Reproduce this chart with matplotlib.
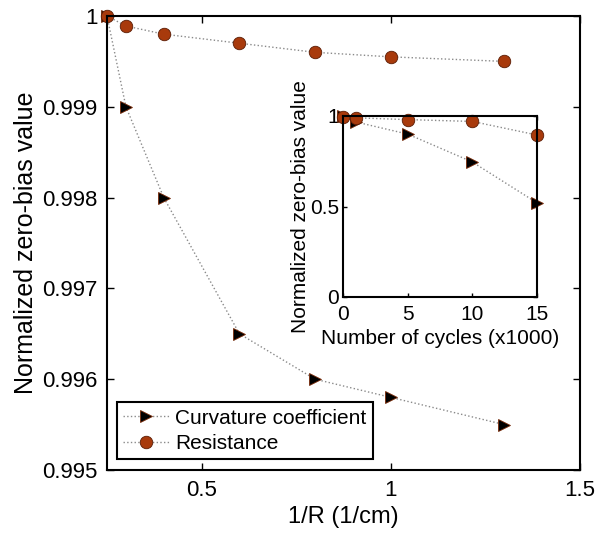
import matplotlib
matplotlib.use("Agg")
import matplotlib.pyplot as plt

plt.rcParams['font.family'] = ['Liberation Sans', 'DejaVu Sans']

# Main data: normalized zero-bias value vs 1/R
inv_r = [0.25, 0.3, 0.4, 0.6, 0.8, 1.0, 1.3]
curvature = [1.0, 0.999, 0.998, 0.9965, 0.996, 0.9958, 0.9955]
resistance = [1.0, 0.99989, 0.9998, 0.9997, 0.9996, 0.99955, 0.9995]

# Inset data: normalized value vs number of cycles (x1000)
cycles = [0, 1, 5, 10, 15]
curv_cycles = [1.0, 0.967, 0.90, 0.746, 0.52]
res_cycles = [0.995, 0.99, 0.98, 0.97, 0.895]

circle_face = "#a83a0c"
circle_edge = "#5a1c04"
line_col = "#8a8a8a"

fig = plt.figure(figsize=(6.02, 5.33), dpi=100)
W, H = 602, 533
ax = fig.add_axes([107 / W, 1 - 470 / H, (580 - 107) / W, (470 - 16) / H])

ax.plot(inv_r, curvature, linestyle=":", color=line_col, linewidth=1,
        marker=">", markersize=9, markerfacecolor="black",
        markeredgecolor="#7a2a08", markeredgewidth=0.6,
        label="Curvature coefficient", clip_on=False)
ax.plot(inv_r, resistance, linestyle=":", color=line_col, linewidth=1,
        marker="o", markersize=9, markerfacecolor=circle_face,
        markeredgecolor=circle_edge, markeredgewidth=0.6,
        label="Resistance", clip_on=False)

ax.set_xlim(0.25, 1.5)
ax.set_ylim(0.995, 1.0)
ax.set_xticks([0.5, 1.0, 1.5])
ax.set_xticklabels(["0.5", "1", "1.5"])
ax.set_yticks([0.995, 0.996, 0.997, 0.998, 0.999, 1.0])
ax.set_yticklabels(["0.995", "0.996", "0.997", "0.998", "0.999", "1"])
ax.tick_params(labelsize=16, direction="in", length=5, width=1, pad=7,
               top=True, right=True)
ax.set_xlabel("1/R (1/cm)", fontsize=17, labelpad=4)
ax.set_ylabel("Normalized zero-bias value", fontsize=18, labelpad=3)
for s in ax.spines.values():
    s.set_linewidth(1.5)

leg = ax.legend(loc="lower left", fontsize=15, fancybox=False, framealpha=1,
                edgecolor="black", handlelength=2.2, borderpad=0.3,
                labelspacing=0.3, handletextpad=0.3, borderaxespad=0,
                bbox_to_anchor=(0.021, 0.024))
leg.get_frame().set_linewidth(1.5)

# Inset
axi = fig.add_axes([343 / W, 1 - 297 / H, (537 - 343) / W, (297 - 116) / H])
axi.plot(cycles, curv_cycles, linestyle=":", color=line_col, linewidth=1,
         marker=">", markersize=9, markerfacecolor="black",
         markeredgecolor="#7a2a08", markeredgewidth=0.6, clip_on=False)
axi.plot(cycles, res_cycles, linestyle=":", color=line_col, linewidth=1,
         marker="o", markersize=9, markerfacecolor=circle_face,
         markeredgecolor=circle_edge, markeredgewidth=0.6, clip_on=False)
axi.set_xlim(0, 15)
axi.set_ylim(0, 1)
axi.set_xticks([0, 5, 10, 15])
axi.set_yticks([0, 0.5, 1])
axi.set_yticklabels(["0", "0.5", "1"])
axi.tick_params(labelsize=15, direction="in", length=3, width=1, pad=3,
                top=True, right=True)
axi.tick_params(axis="x", pad=6)
axi.set_xlabel("Number of cycles (x1000)", fontsize=15, labelpad=3)
axi.set_ylabel("Normalized zero-bias value", fontsize=15, labelpad=0)
for s in axi.spines.values():
    s.set_linewidth(1.5)

fig.savefig("out.png", dpi=100)
